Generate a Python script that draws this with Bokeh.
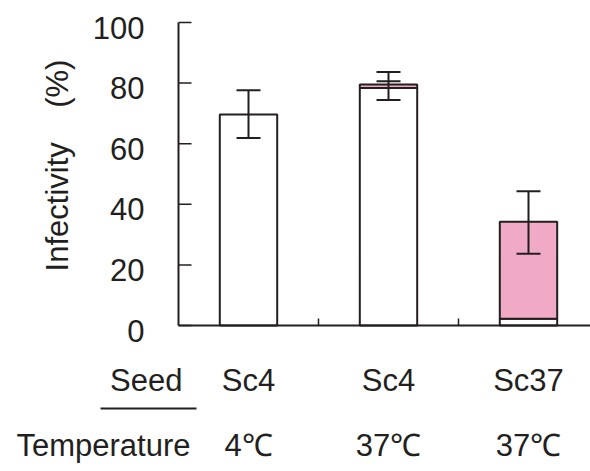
from bokeh.plotting import figure
from bokeh.models import Range1d
from bokeh.core.properties import value
from bokeh.embed import file_html
from bokeh.resources import INLINE
import math

# Infectivity per seed / incubation temperature
seeds = ["Sc4", "Sc4", "Sc37"]
temperatures = ["4\u2103", "37\u2103", "37\u2103"]
white_part = [69.6, 78.4, 2.2]      # unstained portion of each bar (%)
pink_part = [0.0, 1.1, 32.0]        # stained portion stacked on top (%)
err_lower = [61.9, 74.4, 23.7]
err_upper = [77.6, 83.7, 44.3]
pink_err_upper = [None, 80.6, None]
y_ticks = [0, 20, 40, 60, 80, 100]
x_ticks = [1, 2]

INK = "#231f20"
PINK = "#f0aac6"
FONT = value("Liberation Sans")
FS = value("31px")

W, H = 590, 471
LEFT, TOP, BOTTOM = 178, 22, 325      # plot area edges in pixels
PX_X = 140.0                          # pixels per category unit
PX_Y = (BOTTOM - TOP) / 100.0         # pixels per percent

# whole canvas is the data frame; axes are drawn as glyphs
x_range = Range1d(-LEFT / PX_X, (W - LEFT) / PX_X)
y_range = Range1d(-(H - BOTTOM) / PX_Y, BOTTOM / PX_Y)

p = figure(width=W, height=H, output_backend="svg", toolbar_location=None,
           x_range=x_range, y_range=y_range,
           min_border=0)
p.axis.visible = False
p.outline_line_color = None
p.xgrid.visible = False
p.ygrid.visible = False
p.background_fill_color = "white"
p.border_fill_color = "white"

xs = [i + 0.5 for i in range(len(seeds))]
totals = [w + q for w, q in zip(white_part, pink_part)]
x_end = x_range.end

# stacked bars
bw = 0.41
p.vbar(x=xs, bottom=0, top=white_part, width=bw, fill_color="white",
       line_color=INK, line_width=2)
pk = [i for i, v in enumerate(pink_part) if v > 0]
p.vbar(x=[xs[i] for i in pk], bottom=[white_part[i] for i in pk],
       top=[totals[i] for i in pk], width=bw, fill_color=PINK,
       line_color=INK, line_width=2)

# axis lines and inward ticks
p.segment(x0=[0, 0], y0=[0, 0], x1=[0, x_end], y1=[100, 0],
          line_color=INK, line_width=2)
tick_len_x = 13 / PX_X
p.segment(x0=[0] * len(y_ticks), y0=y_ticks, x1=[tick_len_x] * len(y_ticks),
          y1=y_ticks, line_color=INK, line_width=1.5)
tick_len_y = 7 / PX_Y
p.segment(x0=x_ticks, y0=[0] * len(x_ticks), x1=x_ticks,
          y1=[tick_len_y] * len(x_ticks), line_color=INK, line_width=1.5)

# error bars
p.segment(x0=xs, y0=err_lower, x1=xs, y1=err_upper, line_color=INK, line_width=2)
cap_x = xs + xs
cap_y = err_lower + err_upper
extra = [(xs[i], v) for i, v in enumerate(pink_err_upper) if v is not None]
cap_x += [e[0] for e in extra]
cap_y += [e[1] for e in extra]
p.scatter(x=cap_x, y=cap_y, marker="dash", size=24, line_color=INK, line_width=2)

# y tick labels
p.text(x=[-34 / PX_X] * len(y_ticks), y=y_ticks, text=[str(t) for t in y_ticks],
       text_align="right", text_baseline="middle", y_offset=5,
       text_font=FONT, text_font_size=FS, text_color=INK)

# y axis title (non-breaking spaces keep the wide gap)
p.text(x=[-121 / PX_X], y=[160 / PX_Y],
       text=["Infectivity\u00a0\u00a0\u00a0\u00a0(%)"],
       angle=math.pi / 2, text_align="center", text_baseline="middle",
       text_font=FONT, text_font_size=FS, text_color=INK)

# category rows below the axis
row_seed = -55 / PX_Y
row_temp = -120 / PX_Y
p.text(x=[4 / PX_X], y=[row_seed], text=["Seed"], text_align="right",
       text_baseline="middle", text_font=FONT, text_font_size=FS, text_color=INK)
p.text(x=[12 / PX_X], y=[row_temp], text=["Temperature"], text_align="right",
       text_baseline="middle", text_font=FONT, text_font_size=FS, text_color=INK)
p.segment(x0=[-78 / PX_X], y0=[-83 / PX_Y], x1=[18 / PX_X], y1=[-83 / PX_Y],
          line_color=INK, line_width=2)
p.text(x=xs, y=[row_seed] * len(xs), text=seeds, text_align="center",
       text_baseline="middle", text_font=FONT, text_font_size=FS, text_color=INK)
p.text(x=xs, y=[row_temp] * len(xs), text=temperatures, text_align="center",
       text_baseline="middle", text_font=FONT, text_font_size=FS, text_color=INK)

open("out.html", "w").write(file_html(p, INLINE))
